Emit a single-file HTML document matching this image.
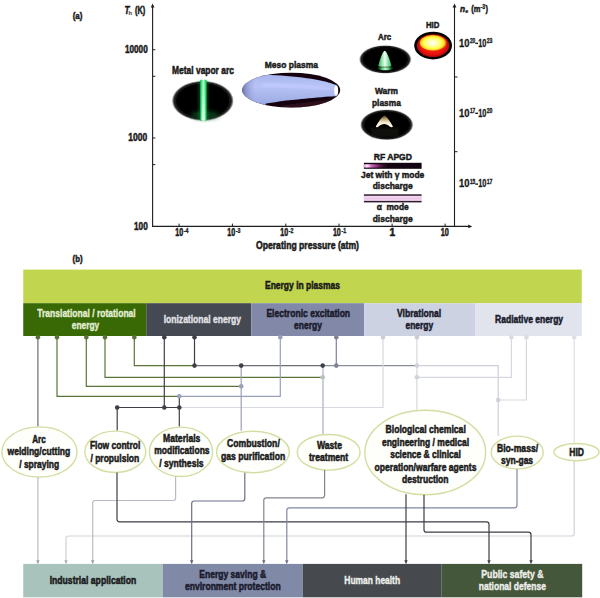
<!DOCTYPE html>
<html><head><meta charset="utf-8"><title>Plasma energy diagram</title>
<style>html,body{margin:0;padding:0;background:#fff;width:600px;height:598px;overflow:hidden;position:relative;font-family:"Liberation Sans", sans-serif}</style>
</head><body>
<svg width="600" height="598" viewBox="0 0 600 598" style="position:absolute;left:0;top:0;font-family:&quot;Liberation Sans&quot;, sans-serif"><defs>
<filter id="b05" x="-20%" y="-20%" width="140%" height="140%"><feGaussianBlur stdDeviation="0.5"/></filter>
<filter id="b1" x="-20%" y="-20%" width="140%" height="140%"><feGaussianBlur stdDeviation="0.75"/></filter>
<filter id="b2" x="-30%" y="-30%" width="160%" height="160%"><feGaussianBlur stdDeviation="1.2"/></filter>
<filter id="b3" x="-50%" y="-50%" width="200%" height="200%"><feGaussianBlur stdDeviation="2"/></filter>
<radialGradient id="hidy" cx="0.48" cy="0.5" r="0.5">
 <stop offset="0" stop-color="#ffffff"/><stop offset="0.35" stop-color="#ffffb0"/><stop offset="0.68" stop-color="#ffff48"/><stop offset="0.88" stop-color="#ffcc20"/><stop offset="1" stop-color="#ff6010" stop-opacity="0.4"/>
</radialGradient>
<radialGradient id="hidr" cx="0.5" cy="0.5" r="0.5">
 <stop offset="0" stop-color="#ff3010"/><stop offset="0.8" stop-color="#e81008"/><stop offset="1" stop-color="#a00808"/>
</radialGradient>
<linearGradient id="greenbar" x1="0" x2="1" y1="0" y2="0">
 <stop offset="0" stop-color="#18b050" stop-opacity="0.7"/><stop offset="0.2" stop-color="#28e070"/><stop offset="0.5" stop-color="#b8ffd8"/><stop offset="0.8" stop-color="#28e070"/><stop offset="1" stop-color="#18b050" stop-opacity="0.7"/>
</linearGradient>
<linearGradient id="whitev" x1="0" x2="0" y1="0" y2="1">
 <stop offset="0" stop-color="#fff" stop-opacity="0"/><stop offset="0.5" stop-color="#fff" stop-opacity="0.25"/><stop offset="1" stop-color="#fff" stop-opacity="0.7"/>
</linearGradient>
<linearGradient id="mesog" x1="0" x2="0" y1="0" y2="1">
 <stop offset="0" stop-color="#8894d2"/><stop offset="0.3" stop-color="#a8b6ec"/><stop offset="0.5" stop-color="#b8c4f6"/><stop offset="0.8" stop-color="#a0aee6"/><stop offset="1" stop-color="#7886c2"/>
</linearGradient>
<linearGradient id="mesol" x1="0" x2="1" y1="0" y2="0">
 <stop offset="0" stop-color="#404878" stop-opacity="0.9"/><stop offset="0.06" stop-color="#6870b0" stop-opacity="0.5"/><stop offset="0.15" stop-color="#8890d0" stop-opacity="0"/>
</linearGradient>
<linearGradient id="jetg" x1="0" x2="1" y1="0" y2="0">
 <stop offset="0" stop-color="#e890d8"/><stop offset="0.12" stop-color="#fff0fc"/><stop offset="0.3" stop-color="#d060c0"/><stop offset="0.6" stop-color="#602050"/><stop offset="1" stop-color="#200818" stop-opacity="0"/>
</linearGradient>
<linearGradient id="conegr" x1="0" x2="1" y1="0" y2="0">
 <stop offset="0" stop-color="#30a050"/><stop offset="0.2" stop-color="#70d890"/><stop offset="0.5" stop-color="#f0fff4"/><stop offset="0.8" stop-color="#70d890"/><stop offset="1" stop-color="#30a050"/>
</linearGradient>
<linearGradient id="conebase" x1="0" x2="1" y1="0" y2="0">
 <stop offset="0" stop-color="#208040" stop-opacity="0"/><stop offset="0.3" stop-color="#50c070"/><stop offset="0.5" stop-color="#c0f8d0"/><stop offset="0.7" stop-color="#50c070"/><stop offset="1" stop-color="#208040" stop-opacity="0"/>
</linearGradient>
<linearGradient id="warmg" x1="0" x2="0" y1="0" y2="1">
 <stop offset="0" stop-color="#4a3818"/><stop offset="0.3" stop-color="#b8a070"/><stop offset="0.6" stop-color="#f4ecd0"/><stop offset="1" stop-color="#fffdf0"/>
</linearGradient>
<radialGradient id="softblk" cx="0.5" cy="0.5" r="0.5">
 <stop offset="0" stop-color="#000"/><stop offset="0.82" stop-color="#000"/><stop offset="0.93" stop-color="#101010" stop-opacity="0.92"/><stop offset="1" stop-color="#404040" stop-opacity="0.25"/>
</radialGradient>
<clipPath id="mesoclip"><ellipse cx="291.2" cy="90.1" rx="49" ry="17.4"/></clipPath>
</defs>
<text x="77.6" y="18.8" font-size="9.8" fill="#1a1a1a" stroke="#1a1a1a" stroke-width="0.5" text-anchor="middle" font-weight="bold" textLength="9.8" lengthAdjust="spacingAndGlyphs" >(a)</text>
<line x1="152.6" y1="6" x2="152.6" y2="227" stroke="#1e1e1e" stroke-width="1.1"/>
<path d="M150.7,7.4 L152.6,3.6 L154.5,7.4 Z" fill="#1e1e1e"/>
<text x="124.6" y="14.2" font-size="10.4" fill="#1a1a1a" stroke="#1a1a1a" stroke-width="0.5" font-weight="bold" font-style="italic" textLength="5.0" lengthAdjust="spacingAndGlyphs" >T</text>
<text x="128.6" y="14.6" font-size="6" fill="#555" stroke="#555" stroke-width="0.2" font-weight="bold" textLength="3.6" lengthAdjust="spacingAndGlyphs" >h</text>
<text x="135" y="14.2" font-size="10.2" fill="#1a1a1a" stroke="#1a1a1a" stroke-width="0.5" font-weight="bold" textLength="10.3" lengthAdjust="spacingAndGlyphs" >(K)</text>
<line x1="152.7" y1="49.7" x2="155.3" y2="49.7" stroke="#1e1e1e" stroke-width="1"/>
<line x1="152.7" y1="76.3" x2="155.3" y2="76.3" stroke="#1e1e1e" stroke-width="1"/>
<line x1="152.7" y1="138" x2="155.3" y2="138" stroke="#1e1e1e" stroke-width="1"/>
<line x1="152.7" y1="164.6" x2="155.3" y2="164.6" stroke="#1e1e1e" stroke-width="1"/>
<text x="125" y="52.7" font-size="10.1" fill="#1a1a1a" stroke="#1a1a1a" stroke-width="0.5" font-weight="bold" textLength="22.7" lengthAdjust="spacingAndGlyphs" >10000</text>
<text x="128.3" y="141" font-size="10.1" fill="#1a1a1a" stroke="#1a1a1a" stroke-width="0.5" font-weight="bold" textLength="18.8" lengthAdjust="spacingAndGlyphs" >1000</text>
<text x="134" y="229.7" font-size="10.1" fill="#1a1a1a" stroke="#1a1a1a" stroke-width="0.5" font-weight="bold" textLength="13.7" lengthAdjust="spacingAndGlyphs" >100</text>
<line x1="152.2" y1="226.4" x2="469" y2="226.4" stroke="#1e1e1e" stroke-width="1.2"/>
<path d="M468.3,224.6 L472.2,226.4 L468.3,228.2 Z" fill="#1e1e1e"/>
<line x1="179.1" y1="223.6" x2="179.1" y2="226.3" stroke="#1e1e1e" stroke-width="1"/>
<line x1="232.4" y1="223.6" x2="232.4" y2="226.3" stroke="#1e1e1e" stroke-width="1"/>
<line x1="285.8" y1="223.6" x2="285.8" y2="226.3" stroke="#1e1e1e" stroke-width="1"/>
<line x1="339" y1="223.6" x2="339" y2="226.3" stroke="#1e1e1e" stroke-width="1"/>
<line x1="392.1" y1="223.6" x2="392.1" y2="226.3" stroke="#1e1e1e" stroke-width="1"/>
<line x1="445.1" y1="223.6" x2="445.1" y2="226.3" stroke="#1e1e1e" stroke-width="1"/>
<text x="175.2" y="235.6" font-size="10.2" fill="#1a1a1a" stroke="#1a1a1a" stroke-width="0.5" font-weight="bold" textLength="7.9" lengthAdjust="spacingAndGlyphs" >10</text>
<text x="183.7" y="232.8" font-size="6.6" fill="#1a1a1a" stroke="#1a1a1a" stroke-width="0.3" font-weight="bold" textLength="4.7" lengthAdjust="spacingAndGlyphs" >-4</text>
<text x="227.2" y="235.6" font-size="10.2" fill="#1a1a1a" stroke="#1a1a1a" stroke-width="0.5" font-weight="bold" textLength="7.9" lengthAdjust="spacingAndGlyphs" >10</text>
<text x="235.7" y="232.8" font-size="6.6" fill="#1a1a1a" stroke="#1a1a1a" stroke-width="0.3" font-weight="bold" textLength="4.7" lengthAdjust="spacingAndGlyphs" >-3</text>
<text x="280.3" y="235.6" font-size="10.2" fill="#1a1a1a" stroke="#1a1a1a" stroke-width="0.5" font-weight="bold" textLength="7.9" lengthAdjust="spacingAndGlyphs" >10</text>
<text x="288.8" y="232.8" font-size="6.6" fill="#1a1a1a" stroke="#1a1a1a" stroke-width="0.3" font-weight="bold" textLength="4.7" lengthAdjust="spacingAndGlyphs" >-2</text>
<text x="332.9" y="235.6" font-size="10.2" fill="#1a1a1a" stroke="#1a1a1a" stroke-width="0.5" font-weight="bold" textLength="7.9" lengthAdjust="spacingAndGlyphs" >10</text>
<text x="341.4" y="232.8" font-size="6.6" fill="#1a1a1a" stroke="#1a1a1a" stroke-width="0.3" font-weight="bold" textLength="4.7" lengthAdjust="spacingAndGlyphs" >-1</text>
<text x="392.3" y="235.6" font-size="10.2" fill="#1a1a1a" stroke="#1a1a1a" stroke-width="0.5" text-anchor="middle" font-weight="bold" >1</text>
<text x="440.8" y="235.6" font-size="10.2" fill="#1a1a1a" stroke="#1a1a1a" stroke-width="0.5" font-weight="bold" textLength="8.1" lengthAdjust="spacingAndGlyphs" >10</text>
<text x="307.5" y="249.3" font-size="10" fill="#1a1a1a" stroke="#1a1a1a" stroke-width="0.5" text-anchor="middle" font-weight="bold" textLength="103" lengthAdjust="spacingAndGlyphs" >Operating pressure (atm)</text>
<line x1="454.5" y1="6" x2="454.5" y2="227" stroke="#1e1e1e" stroke-width="1.1"/>
<path d="M452.6,7.4 L454.5,3.6 L456.4,7.4 Z" fill="#1e1e1e"/>
<line x1="454.5" y1="77" x2="457.5" y2="77" stroke="#1e1e1e" stroke-width="1"/>
<line x1="454.5" y1="151.7" x2="457.5" y2="151.7" stroke="#1e1e1e" stroke-width="1"/>
<text x="460" y="12.2" font-size="9.8" fill="#1a1a1a" stroke="#1a1a1a" stroke-width="0.5" font-weight="bold" font-style="italic" textLength="5.1" lengthAdjust="spacingAndGlyphs" >n</text>
<text x="465.2" y="12.9" font-size="6.2" fill="#1a1a1a" stroke="#1a1a1a" stroke-width="0.25" font-weight="bold" textLength="3.0" lengthAdjust="spacingAndGlyphs" >e</text>
<text x="471.3" y="12.2" font-size="9.8" fill="#1a1a1a" stroke="#1a1a1a" stroke-width="0.5" font-weight="bold" textLength="9.1" lengthAdjust="spacingAndGlyphs" >(m</text>
<text x="480.6" y="8.8" font-size="6.6" fill="#1a1a1a" stroke="#1a1a1a" stroke-width="0.3" font-weight="bold" textLength="4.6" lengthAdjust="spacingAndGlyphs" >-3</text>
<text x="485.4" y="12.2" font-size="9.8" fill="#1a1a1a" stroke="#1a1a1a" stroke-width="0.5" font-weight="bold" textLength="2.5" lengthAdjust="spacingAndGlyphs" >)</text>
<text x="459.1" y="46.65" font-size="10.2" fill="#1a1a1a" stroke="#1a1a1a" stroke-width="0.3" font-weight="bold" textLength="10.5" lengthAdjust="spacingAndGlyphs" >10</text>
<text x="469.9" y="42.949999999999996" font-size="6.8" fill="#1a1a1a" stroke="#1a1a1a" stroke-width="0.3" font-weight="bold" textLength="5.4" lengthAdjust="spacingAndGlyphs" >20</text>
<rect x="475.3" y="42.65" width="2.7" height="1.4" fill="#1a1a1a" />
<text x="478.2" y="46.65" font-size="10.2" fill="#1a1a1a" stroke="#1a1a1a" stroke-width="0.3" font-weight="bold" textLength="8.2" lengthAdjust="spacingAndGlyphs" >10</text>
<text x="486.7" y="42.949999999999996" font-size="6.8" fill="#1a1a1a" stroke="#1a1a1a" stroke-width="0.3" font-weight="bold" textLength="5.8" lengthAdjust="spacingAndGlyphs" >23</text>
<text x="459.1" y="116.6" font-size="10.2" fill="#1a1a1a" stroke="#1a1a1a" stroke-width="0.3" font-weight="bold" textLength="10.5" lengthAdjust="spacingAndGlyphs" >10</text>
<text x="469.9" y="112.89999999999999" font-size="6.8" fill="#1a1a1a" stroke="#1a1a1a" stroke-width="0.3" font-weight="bold" textLength="5.4" lengthAdjust="spacingAndGlyphs" >17</text>
<rect x="475.3" y="112.6" width="2.7" height="1.4" fill="#1a1a1a" />
<text x="478.2" y="116.6" font-size="10.2" fill="#1a1a1a" stroke="#1a1a1a" stroke-width="0.3" font-weight="bold" textLength="8.2" lengthAdjust="spacingAndGlyphs" >10</text>
<text x="486.7" y="112.89999999999999" font-size="6.8" fill="#1a1a1a" stroke="#1a1a1a" stroke-width="0.3" font-weight="bold" textLength="5.8" lengthAdjust="spacingAndGlyphs" >20</text>
<text x="459.1" y="187.4" font-size="10.2" fill="#1a1a1a" stroke="#1a1a1a" stroke-width="0.3" font-weight="bold" textLength="10.5" lengthAdjust="spacingAndGlyphs" >10</text>
<text x="469.9" y="183.70000000000002" font-size="6.8" fill="#1a1a1a" stroke="#1a1a1a" stroke-width="0.3" font-weight="bold" textLength="5.4" lengthAdjust="spacingAndGlyphs" >15</text>
<rect x="475.3" y="183.4" width="2.7" height="1.4" fill="#1a1a1a" />
<text x="478.2" y="187.4" font-size="10.2" fill="#1a1a1a" stroke="#1a1a1a" stroke-width="0.3" font-weight="bold" textLength="8.2" lengthAdjust="spacingAndGlyphs" >10</text>
<text x="486.7" y="183.70000000000002" font-size="6.8" fill="#1a1a1a" stroke="#1a1a1a" stroke-width="0.3" font-weight="bold" textLength="5.8" lengthAdjust="spacingAndGlyphs" >17</text>
<text x="203.0" y="74.2" font-size="10" fill="#1a1a1a" stroke="#1a1a1a" stroke-width="0.5" text-anchor="middle" font-weight="bold" textLength="61.8" lengthAdjust="spacingAndGlyphs" >Metal vapor arc</text>
<text x="291.4" y="67.7" font-size="9.8" fill="#1a1a1a" stroke="#1a1a1a" stroke-width="0.5" text-anchor="middle" font-weight="bold" textLength="53.2" lengthAdjust="spacingAndGlyphs" >Meso plasma</text>
<text x="384.68" y="39.75" font-size="9.8" fill="#1a1a1a" stroke="#1a1a1a" stroke-width="0.5" text-anchor="middle" font-weight="bold" textLength="13.15" lengthAdjust="spacingAndGlyphs" >Arc</text>
<text x="432.7" y="28.1" font-size="9.8" fill="#1a1a1a" stroke="#1a1a1a" stroke-width="0.5" text-anchor="middle" font-weight="bold" textLength="13.4" lengthAdjust="spacingAndGlyphs" >HID</text>
<text x="386.5" y="93.7" font-size="9.8" fill="#1a1a1a" stroke="#1a1a1a" stroke-width="0.5" text-anchor="middle" font-weight="bold" textLength="23" lengthAdjust="spacingAndGlyphs" >Warm</text>
<text x="386.4" y="106.3" font-size="9.8" fill="#1a1a1a" stroke="#1a1a1a" stroke-width="0.5" text-anchor="middle" font-weight="bold" textLength="28.8" lengthAdjust="spacingAndGlyphs" >plasma</text>
<text x="392.85" y="159.7" font-size="9.8" fill="#1a1a1a" stroke="#1a1a1a" stroke-width="0.5" text-anchor="middle" font-weight="bold" textLength="38.3" lengthAdjust="spacingAndGlyphs" >RF APGD</text>
<text x="392.65" y="178" font-size="9.8" fill="#1a1a1a" stroke="#1a1a1a" stroke-width="0.5" text-anchor="middle" font-weight="bold" textLength="63.3" lengthAdjust="spacingAndGlyphs" >Jet with γ mode</text>
<text x="392.7" y="188.8" font-size="9.8" fill="#1a1a1a" stroke="#1a1a1a" stroke-width="0.5" text-anchor="middle" font-weight="bold" textLength="40.0" lengthAdjust="spacingAndGlyphs" >discharge</text>
<text x="392.7" y="210.2" font-size="9.8" fill="#1a1a1a" stroke="#1a1a1a" stroke-width="0.5" text-anchor="middle" font-weight="bold" textLength="32.0" lengthAdjust="spacingAndGlyphs" xml:space="preserve">α  mode</text>
<text x="392.7" y="221.5" font-size="9.8" fill="#1a1a1a" stroke="#1a1a1a" stroke-width="0.5" text-anchor="middle" font-weight="bold" textLength="40.0" lengthAdjust="spacingAndGlyphs" >discharge</text>
<ellipse cx="202.75" cy="100.75" rx="30.8" ry="19.9" fill="url(#softblk)" filter="url(#b05)"/>
<ellipse cx="205" cy="115" rx="14" ry="4" fill="#0a5024" filter="url(#b3)" opacity="0.8"/>
<rect x="198.3" y="81" width="10" height="39" fill="#10a040" opacity="0.35" filter="url(#b2)"/>
<g filter="url(#b1)"><rect x="200" y="79.8" width="6.8" height="40.8" fill="url(#greenbar)"/><rect x="201.6" y="80" width="3.6" height="40.5" fill="url(#whitev)"/></g>
<g filter="url(#b1)"><g clip-path="url(#mesoclip)"><rect x="240" y="72" width="102" height="37" fill="#120610"/><path d="M236,60 L255,60 L255,74.6 C270,75.2 282,75.3 297.5,77.1 C310,78.5 322,80.5 329,82.7 C332,83.5 334,84.2 336.5,85 L336.5,96.2 C333,96.3 331,96.5 329,96.6 C320,97.3 306,98.7 297.5,99.5 C290,100 282,100.8 275,102.2 L266,103.6 L262,112 L236,112 Z" fill="url(#mesog)"/><rect x="240" y="72" width="102" height="37" fill="url(#mesol)"/><path d="M262,83 C285,82 310,85 330,88 L330,90 C310,89 285,88 262,87 Z" fill="#c4ccff" opacity="0.5"/><path d="M280,106 C300,103 318,101 336,99.5 L340,104 L300,110 Z" fill="#4a1828" opacity="0.5"/></g></g>
<ellipse cx="336.2" cy="90.6" rx="2" ry="5.2" fill="#fff" filter="url(#b05)"/>
<ellipse cx="385.25" cy="59.4" rx="26" ry="14.2" fill="url(#softblk)" filter="url(#b05)"/>
<g filter="url(#b05)"><path d="M376.5,67.8 C380,67.2 390,67.2 394,67.8 C392,71.2 378.5,71.2 376.5,67.8 Z" fill="url(#conebase)"/><path d="M384.7,50.8 C386.6,51.5 389.5,58 391.6,66.3 C388,67 381.5,67 378.2,66.3 C380.2,58 382.8,51.5 384.7,50.8 Z" fill="url(#conegr)"/></g>
<ellipse cx="433.1" cy="45.6" rx="18.9" ry="13.8" fill="#000" filter="url(#b05)"/>
<ellipse cx="433.1" cy="45.6" rx="16.3" ry="11.4" fill="url(#hidr)" filter="url(#b05)"/>
<ellipse cx="433.3" cy="42.9" rx="13.8" ry="8.2" fill="url(#hidy)" filter="url(#b1)"/>
<ellipse cx="386.75" cy="124.75" rx="26.4" ry="15.3" fill="url(#softblk)" filter="url(#b05)"/>
<rect x="371" y="127.5" width="28" height="9.5" fill="#1e1c14" filter="url(#b2)" opacity="0.55"/>
<path d="M384.5,115.3 C387.5,117.5 390.5,122 393,126.6 C392.2,127.4 391,127.4 390,126.8 C388,125 386,124 384.3,124 C382.5,124 380,125.3 377.8,127 C377,127.5 376,127.3 375.8,126.6 C378.5,121.5 381.5,117.5 384.5,115.3 Z" fill="url(#warmg)" filter="url(#b05)"/>
<rect x="363.9" y="162.8" width="57.7" height="6" fill="#120410" />
<rect x="363.9" y="164.2" width="26" height="3.4" fill="url(#jetg)" filter="url(#b05)"/>
<rect x="363.9" y="195.5" width="57.7" height="5.6" fill="#f4d6f2" />
<rect x="363.9" y="197.6" width="57.7" height="1.8" fill="#eac6e8" />
<rect x="363.9" y="194.3" width="57.7" height="1.5" fill="#2e1c2c" />
<rect x="363.9" y="200.9" width="57.7" height="1.5" fill="#2e1c2c" />
<text x="77.6" y="262.3" font-size="9.8" fill="#1a1a1a" stroke="#1a1a1a" stroke-width="0.5" text-anchor="middle" font-weight="bold" textLength="10" lengthAdjust="spacingAndGlyphs" >(b)</text>
<rect x="23.25" y="269.6" width="558.5" height="33.6" fill="#c2d54e" />
<text x="302.5" y="289.2" font-size="10.3" fill="#1a1a1a" stroke="#1a1a1a" stroke-width="0.5" text-anchor="middle" font-weight="bold" textLength="75" lengthAdjust="spacingAndGlyphs" >Energy in plasmas</text>
<rect x="23.25" y="303.2" width="123.0" height="32.8" fill="#386904" />
<rect x="146.25" y="303.2" width="105.0" height="32.8" fill="#454952" />
<rect x="251.25" y="303.2" width="113.0" height="32.8" fill="#8289a8" />
<rect x="364.25" y="303.2" width="111.25" height="32.8" fill="#cdd2e2" />
<rect x="475.5" y="303.2" width="106.25" height="32.8" fill="#e1e4ed" />
<text x="86.5" y="316.9" font-size="10.3" fill="#e4eed6" stroke="#e4eed6" stroke-width="0.35" text-anchor="middle" font-weight="bold" textLength="98.4" lengthAdjust="spacingAndGlyphs" >Translational / rotational</text>
<text x="85.55" y="329.3" font-size="10.3" fill="#e4eed6" stroke="#e4eed6" stroke-width="0.35" text-anchor="middle" font-weight="bold" textLength="27.5" lengthAdjust="spacingAndGlyphs" >energy</text>
<text x="202.35" y="322.7" font-size="10.3" fill="#e4e4e8" stroke="#e4e4e8" stroke-width="0.35" text-anchor="middle" font-weight="bold" textLength="77.3" lengthAdjust="spacingAndGlyphs" >Ionizational energy</text>
<text x="308.25" y="317.2" font-size="10.3" fill="#1a1a2c" stroke="#1a1a2c" stroke-width="0.5" text-anchor="middle" font-weight="bold" textLength="83.7" lengthAdjust="spacingAndGlyphs" >Electronic excitation</text>
<text x="308.0" y="329.3" font-size="10.3" fill="#1a1a2c" stroke="#1a1a2c" stroke-width="0.5" text-anchor="middle" font-weight="bold" textLength="27.8" lengthAdjust="spacingAndGlyphs" >energy</text>
<text x="419.1" y="316.8" font-size="10.3" fill="#1a1a2c" stroke="#1a1a2c" stroke-width="0.5" text-anchor="middle" font-weight="bold" textLength="44.2" lengthAdjust="spacingAndGlyphs" >Vibrational</text>
<text x="419.35" y="329.3" font-size="10.3" fill="#1a1a2c" stroke="#1a1a2c" stroke-width="0.5" text-anchor="middle" font-weight="bold" textLength="27.7" lengthAdjust="spacingAndGlyphs" >energy</text>
<text x="529.1" y="323.1" font-size="10.3" fill="#1a1a2c" stroke="#1a1a2c" stroke-width="0.5" text-anchor="middle" font-weight="bold" textLength="68.0" lengthAdjust="spacingAndGlyphs" >Radiative energy</text>
<line x1="37.9" y1="336" x2="37.9" y2="426.5" stroke="#6c6e70" stroke-width="1.2"/>
<path d="M57,336 V396.3 H179.3" stroke="#5a733a" stroke-width="1.2" fill="none" />
<path d="M86.3,336 V386.3 H241" stroke="#5a733a" stroke-width="1.2" fill="none" />
<path d="M105,336 V377.3 H322.7" stroke="#5a733a" stroke-width="1.2" fill="none" />
<path d="M134.3,336 V365.6 H194.5" stroke="#5a733a" stroke-width="1.2" fill="none" />
<path d="M164.3,336 V407.5" stroke="#3e4048" stroke-width="1.2" fill="none" />
<path d="M194.5,336 V365.6" stroke="#3e4048" stroke-width="1.2" fill="none" />
<path d="M194.5,365.6 H322.7" stroke="#6c6e74" stroke-width="1.2" fill="none" />
<path d="M322.7,365.6 H416.7" stroke="#8a8e98" stroke-width="1.2" fill="none" />
<path d="M416.7,365.6 H498.2 V435.8" stroke="#cdd0d8" stroke-width="1.2" fill="none" />
<path d="M117.2,407.5 H179.3" stroke="#3e4048" stroke-width="1.2" fill="none" />
<line x1="117.2" y1="407.5" x2="117.2" y2="430.5" stroke="#3e4048" stroke-width="1.2"/>
<line x1="179.3" y1="396.3" x2="179.3" y2="426.5" stroke="#3e4048" stroke-width="1.2"/>
<path d="M179.3,396.3 H280.3 V336" stroke="#9aa0b8" stroke-width="1.2" fill="none" />
<path d="M179.3,407.5 H383 V336" stroke="#d6d9e0" stroke-width="1.2" fill="none" />
<path d="M336.3,336 V365.6" stroke="#7d8296" stroke-width="1.2" fill="none" />
<line x1="241.2" y1="365.6" x2="241.2" y2="430.8" stroke="#9aa0b8" stroke-width="1.2"/>
<line x1="323" y1="365.6" x2="323" y2="434" stroke="#aab0c0" stroke-width="1.2"/>
<path d="M416.9,336 V409.8" stroke="#d6d9e0" stroke-width="1.2" fill="none" />
<path d="M416.9,377.3 H511.4 V336" stroke="#d6d9e0" stroke-width="1.2" fill="none" />
<path d="M498.2,400 H526.4 V336" stroke="#d6d9e0" stroke-width="1.2" fill="none" />
<line x1="574.2" y1="336" x2="574.2" y2="443.2" stroke="#dcdfe4" stroke-width="1.2"/>
<circle cx="37.9" cy="337.3" r="2.3" fill="#5a6e40"/>
<circle cx="57" cy="337.3" r="2.3" fill="#5a733a"/>
<circle cx="86.3" cy="337.3" r="2.3" fill="#5a733a"/>
<circle cx="105" cy="337.3" r="2.3" fill="#5a733a"/>
<circle cx="134.3" cy="337.3" r="2.3" fill="#5a733a"/>
<circle cx="164.3" cy="337.3" r="2.3" fill="#3e4048"/>
<circle cx="194.5" cy="337.3" r="2.3" fill="#3e4048"/>
<circle cx="280.3" cy="337.3" r="2.3" fill="#9aa0b8"/>
<circle cx="336.3" cy="337.3" r="2.3" fill="#7d8296"/>
<circle cx="383" cy="337.3" r="2.3" fill="#c8ccd6"/>
<circle cx="416.9" cy="337.3" r="2.3" fill="#c8ccd6"/>
<circle cx="511.4" cy="337.3" r="2.3" fill="#d8dbe2"/>
<circle cx="526.4" cy="337.3" r="2.3" fill="#d8dbe2"/>
<circle cx="574.2" cy="337.3" r="2.3" fill="#dcdfe5"/>
<circle cx="194.5" cy="365.6" r="2.3" fill="#3e4048"/>
<circle cx="241.2" cy="365.6" r="2.3" fill="#3e4048"/>
<circle cx="322.7" cy="365.6" r="2.3" fill="#3e4048"/>
<circle cx="336.3" cy="365.6" r="2.3" fill="#7d8296"/>
<circle cx="416.9" cy="365.6" r="2.3" fill="#cfd2da"/>
<circle cx="241.2" cy="386.3" r="2.3" fill="#9aa0b8"/>
<circle cx="322.7" cy="377.3" r="2.3" fill="#b8c0c0"/>
<circle cx="416.9" cy="377.3" r="2.3" fill="#cfd2da"/>
<circle cx="179.3" cy="396.3" r="2.3" fill="#9aa0b8"/>
<circle cx="498.2" cy="400" r="2.3" fill="#cfd2da"/>
<circle cx="117.2" cy="407.5" r="2.3" fill="#3e4048"/>
<circle cx="164.3" cy="407.5" r="2.3" fill="#3e4048"/>
<circle cx="179.3" cy="407.5" r="2.3" fill="#3e4048"/>
<ellipse cx="39.45" cy="452" rx="37.6" ry="25.1" fill="#fefefa" stroke="#d2dea2" stroke-width="1.4"/>
<ellipse cx="115.3" cy="451.8" rx="30.5" ry="20.7" fill="#fefefa" stroke="#d2dea2" stroke-width="1.4"/>
<ellipse cx="181" cy="451.8" rx="31.6" ry="24.7" fill="#fefefa" stroke="#d2dea2" stroke-width="1.4"/>
<ellipse cx="252.95" cy="452" rx="36.4" ry="20.7" fill="#fefefa" stroke="#d2dea2" stroke-width="1.4"/>
<ellipse cx="328.7" cy="452.3" rx="31.4" ry="17.8" fill="#fefefa" stroke="#d2dea2" stroke-width="1.4"/>
<ellipse cx="425.25" cy="452.5" rx="60.4" ry="42.2" fill="#fefefa" stroke="#d2dea2" stroke-width="1.4"/>
<ellipse cx="517.2" cy="452.5" rx="26" ry="16.4" fill="#fefefa" stroke="#d2dea2" stroke-width="1.4"/>
<ellipse cx="576.5" cy="452.1" rx="22.6" ry="8.6" fill="#fefefa" stroke="#d2dea2" stroke-width="1.4"/>
<text x="38.95" y="442.5" font-size="10" fill="#1a1a1a" stroke="#1a1a1a" stroke-width="0.5" text-anchor="middle" font-weight="bold" textLength="13.5" lengthAdjust="spacingAndGlyphs" >Arc</text>
<text x="38.85" y="455.2" font-size="10" fill="#1a1a1a" stroke="#1a1a1a" stroke-width="0.5" text-anchor="middle" font-weight="bold" textLength="62.7" lengthAdjust="spacingAndGlyphs" >welding/cutting</text>
<text x="39.2" y="467.7" font-size="10" fill="#1a1a1a" stroke="#1a1a1a" stroke-width="0.5" text-anchor="middle" font-weight="bold" textLength="40.0" lengthAdjust="spacingAndGlyphs" >/ spraying</text>
<text x="115.1" y="448.9" font-size="10" fill="#1a1a1a" stroke="#1a1a1a" stroke-width="0.5" text-anchor="middle" font-weight="bold" textLength="50.4" lengthAdjust="spacingAndGlyphs" >Flow control</text>
<text x="114.8" y="461.5" font-size="10" fill="#1a1a1a" stroke="#1a1a1a" stroke-width="0.5" text-anchor="middle" font-weight="bold" textLength="48.8" lengthAdjust="spacingAndGlyphs" >/ propulsion</text>
<text x="181.7" y="441.7" font-size="10" fill="#1a1a1a" stroke="#1a1a1a" stroke-width="0.5" text-anchor="middle" font-weight="bold" textLength="37.4" lengthAdjust="spacingAndGlyphs" >Materials</text>
<text x="181.95" y="454.4" font-size="10" fill="#1a1a1a" stroke="#1a1a1a" stroke-width="0.5" text-anchor="middle" font-weight="bold" textLength="55.3" lengthAdjust="spacingAndGlyphs" >modifications</text>
<text x="181.4" y="466.8" font-size="10" fill="#1a1a1a" stroke="#1a1a1a" stroke-width="0.5" text-anchor="middle" font-weight="bold" textLength="44.4" lengthAdjust="spacingAndGlyphs" >/ synthesis</text>
<text x="253.4" y="447" font-size="10" fill="#1a1a1a" stroke="#1a1a1a" stroke-width="0.5" text-anchor="middle" font-weight="bold" textLength="52.8" lengthAdjust="spacingAndGlyphs" >Combustion/</text>
<text x="253.1" y="459.6" font-size="10" fill="#1a1a1a" stroke="#1a1a1a" stroke-width="0.5" text-anchor="middle" font-weight="bold" textLength="64.2" lengthAdjust="spacingAndGlyphs" >gas purification</text>
<text x="329.5" y="448.5" font-size="10" fill="#1a1a1a" stroke="#1a1a1a" stroke-width="0.5" text-anchor="middle" font-weight="bold" textLength="25" lengthAdjust="spacingAndGlyphs" >Waste</text>
<text x="328.6" y="461.2" font-size="10" fill="#1a1a1a" stroke="#1a1a1a" stroke-width="0.5" text-anchor="middle" font-weight="bold" textLength="39.2" lengthAdjust="spacingAndGlyphs" >treatment</text>
<text x="425.7" y="433.2" font-size="10" fill="#1a1a1a" stroke="#1a1a1a" stroke-width="0.5" text-anchor="middle" font-weight="bold" textLength="80.2" lengthAdjust="spacingAndGlyphs" >Biological chemical</text>
<text x="425.5" y="445.7" font-size="10" fill="#1a1a1a" stroke="#1a1a1a" stroke-width="0.5" text-anchor="middle" font-weight="bold" textLength="87.2" lengthAdjust="spacingAndGlyphs" >engineering / medical</text>
<text x="425.5" y="458.2" font-size="10" fill="#1a1a1a" stroke="#1a1a1a" stroke-width="0.5" text-anchor="middle" font-weight="bold" textLength="70.6" lengthAdjust="spacingAndGlyphs" >science &amp; clinical</text>
<text x="425.5" y="470.5" font-size="10" fill="#1a1a1a" stroke="#1a1a1a" stroke-width="0.5" text-anchor="middle" font-weight="bold" textLength="101.8" lengthAdjust="spacingAndGlyphs" >operation/warfare agents</text>
<text x="425.3" y="482.6" font-size="10" fill="#1a1a1a" stroke="#1a1a1a" stroke-width="0.5" text-anchor="middle" font-weight="bold" textLength="46.4" lengthAdjust="spacingAndGlyphs" >destruction</text>
<text x="517.55" y="451.8" font-size="10" fill="#1a1a1a" stroke="#1a1a1a" stroke-width="0.5" text-anchor="middle" font-weight="bold" textLength="41.1" lengthAdjust="spacingAndGlyphs" >Bio-mass/</text>
<text x="517.05" y="463.5" font-size="10" fill="#1a1a1a" stroke="#1a1a1a" stroke-width="0.5" text-anchor="middle" font-weight="bold" textLength="32.1" lengthAdjust="spacingAndGlyphs" >syn-gas</text>
<text x="576.65" y="456.3" font-size="10" fill="#1a1a1a" stroke="#1a1a1a" stroke-width="0.5" text-anchor="middle" font-weight="bold" textLength="14.7" lengthAdjust="spacingAndGlyphs" >HID</text>
<line x1="37.9" y1="477.2" x2="37.9" y2="561" stroke="#b8bcc4" stroke-width="1.2"/>
<path d="M36.199999999999996,560.2 L37.9,564.2 L39.6,560.2 Z" fill="#9a9ea6"/>
<path d="M574.2,460.8 L574.20,533.50 Q574.2,536 571.70,536.00 L68.50,536.00 Q66,536 66.00,538.50 L66,561" stroke="#d0d3d9" stroke-width="1.2" fill="none" />
<path d="M64.3,560.2 L66,564.2 L67.7,560.2 Z" fill="#a8acb4"/>
<path d="M175.6,476.5 L175.60,498.00 Q175.6,500.5 173.10,500.50 L95.20,500.50 Q92.7,500.5 92.70,503.00 L92.7,561" stroke="#b8bcc4" stroke-width="1.2" fill="none" />
<path d="M91.0,560.2 L92.7,564.2 L94.4,560.2 Z" fill="#9a9ea6"/>
<path d="M117,472.5 L117.00,519.30 Q117,521.8 119.50,521.80 L486.50,521.80 Q489,521.8 489.00,524.30 L489,561" stroke="#3c3e44" stroke-width="1.2" fill="none" />
<path d="M487.3,560.2 L489,564.2 L490.7,560.2 Z" fill="#3c3e44"/>
<path d="M244.8,472.7 L244.80,498.50 Q244.8,501 242.30,501.00 L194.20,501.00 Q191.7,501 191.70,503.50 L191.7,561" stroke="#6a7088" stroke-width="1.2" fill="none" />
<path d="M190.0,560.2 L191.7,564.2 L193.39999999999998,560.2 Z" fill="#5a6078"/>
<path d="M324.6,470.1 L324.60,495.30 Q324.6,497.8 322.10,497.80 L266.30,497.80 Q263.8,497.8 263.80,500.30 L263.8,561" stroke="#80848c" stroke-width="1.2" fill="none" />
<path d="M262.1,560.2 L263.8,564.2 L265.5,560.2 Z" fill="#6a6e76"/>
<path d="M517,468.9 L517.00,505.30 Q517,507.8 514.50,507.80 L289.30,507.80 Q286.8,507.8 286.80,510.30 L286.8,561" stroke="#8088a0" stroke-width="1.2" fill="none" />
<path d="M285.1,560.2 L286.8,564.2 L288.5,560.2 Z" fill="#6a7088"/>
<line x1="406" y1="494.3" x2="406" y2="561" stroke="#3c3e44" stroke-width="1.2"/>
<path d="M404.3,560.2 L406,564.2 L407.7,560.2 Z" fill="#3c3e44"/>
<path d="M424,494.7 L424.00,529.70 Q424,532.2 426.50,532.20 L528.50,532.20 Q531,532.2 531.00,534.70 L531,561" stroke="#3c3e44" stroke-width="1.2" fill="none" />
<path d="M529.3,560.2 L531,564.2 L532.7,560.2 Z" fill="#3c3e44"/>
<rect x="23.25" y="563.9" width="139.45" height="33.4" fill="#a8c2bc" />
<rect x="162.7" y="563.9" width="140.0" height="33.4" fill="#8089a6" />
<rect x="302.7" y="563.9" width="139.0" height="33.4" fill="#464a4f" />
<rect x="441.7" y="563.9" width="140.50000000000006" height="33.4" fill="#45573a" />
<text x="93.0" y="584.2" font-size="10.3" fill="#1a1a1a" stroke="#1a1a1a" stroke-width="0.5" text-anchor="middle" font-weight="bold" textLength="86.6" lengthAdjust="spacingAndGlyphs" >Industrial application</text>
<text x="232.75" y="577.9" font-size="10.3" fill="#1a1a2c" stroke="#1a1a2c" stroke-width="0.5" text-anchor="middle" font-weight="bold" textLength="66.9" lengthAdjust="spacingAndGlyphs" >Energy saving &amp;</text>
<text x="232.8" y="589.8" font-size="10.3" fill="#1a1a2c" stroke="#1a1a2c" stroke-width="0.5" text-anchor="middle" font-weight="bold" textLength="95.8" lengthAdjust="spacingAndGlyphs" >environment protection</text>
<text x="372.2" y="583.9" font-size="10.3" fill="#eef0ec" stroke="#eef0ec" stroke-width="0.35" text-anchor="middle" font-weight="bold" textLength="55.8" lengthAdjust="spacingAndGlyphs" >Human health</text>
<text x="512.4" y="577.6" font-size="10.3" fill="#eef0ec" stroke="#eef0ec" stroke-width="0.35" text-anchor="middle" font-weight="bold" textLength="62.2" lengthAdjust="spacingAndGlyphs" >Public safety &amp;</text>
<text x="512.4" y="590" font-size="10.3" fill="#eef0ec" stroke="#eef0ec" stroke-width="0.35" text-anchor="middle" font-weight="bold" textLength="67.2" lengthAdjust="spacingAndGlyphs" >national defense</text></svg>
</body></html>
